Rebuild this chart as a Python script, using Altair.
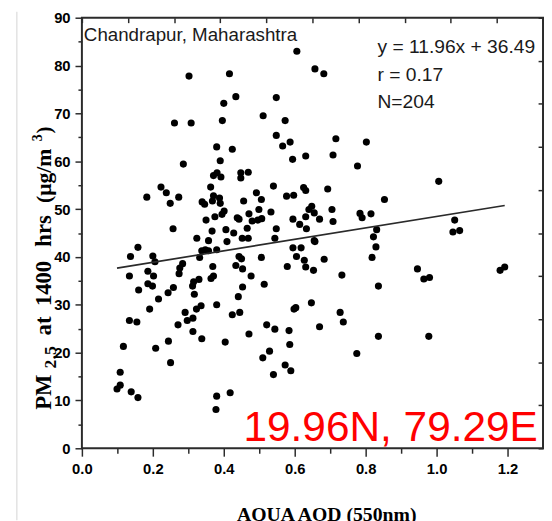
import altair as alt
import pandas as pd

# ---------------- data ----------------
aod = [
    0.606, 0.657, 0.682, 0.716, 0.802, 0.631, 0.708, 0.302, 0.416, 0.434, 0.400, 0.548, 0.511, 0.573, 0.261, 0.308,
    0.396, 0.548, 0.380, 0.424, 0.566, 0.587, 0.594,
    0.286, 0.390, 0.371, 0.381, 0.392, 0.448, 0.469, 0.448, 0.183, 0.223, 0.238, 0.249, 0.273, 0.363, 0.339, 0.346,
    0.371, 0.388, 0.368, 0.390, 0.456, 0.492, 0.506, 0.540, 0.577, 0.597, 0.625, 0.631, 0.648, 0.640,
    0.401, 0.395, 0.375, 0.350, 0.438, 0.443, 0.471, 0.499, 0.533, 0.480, 0.496, 0.507, 0.466, 0.548, 0.595, 0.614,
    0.631, 0.633, 0.655, 0.257,
    0.367, 0.406, 0.428, 0.324, 0.357, 0.409, 0.452, 0.469, 0.544, 0.655,
    0.158, 0.137, 0.200, 0.206, 0.338, 0.348, 0.357, 0.380, 0.332, 0.443,
    0.450, 0.506, 0.595, 0.618, 0.605, 0.627, 0.631, 0.653, 0.134, 0.186,
    0.202, 0.186, 0.199, 0.160, 0.284, 0.276, 0.274, 0.369, 0.434, 0.453,
    0.371, 0.364, 0.477, 0.579, 0.330, 0.315, 0.312, 0.514, 0.453, 0.258,
    0.243, 0.317, 0.216, 0.441,
    0.777, 1.006, 0.693, 0.853, 0.705, 0.784, 0.790, 0.815, 0.670, 0.708, 0.831, 1.051, 1.046, 1.065, 0.822, 0.657,
    0.829, 0.818, 0.683, 0.946, 0.964, 0.980, 1.179, 1.192, 0.733, 0.836,
    0.728, 0.737, 0.670, 0.836, 0.978, 0.775,
    0.191, 0.134, 0.155, 0.117, 0.108, 0.108, 0.099, 0.139, 0.158, 0.208, 0.244, 0.250, 0.271, 0.291, 0.297, 0.313,
    0.313, 0.323, 0.336, 0.338, 0.380, 0.404, 0.424, 0.445, 0.380, 0.378, 0.418, 0.471, 0.521, 0.544, 0.529, 0.510,
    0.540, 0.573, 0.589, 0.584, 0.586, 0.598, 0.603, 0.647,
]
pm25 = [
    83.0, 79.3, 78.3, 64.7, 64.0, 61.1, 61.3, 77.8, 78.3, 73.5, 72.1, 73.3, 69.5, 68.5, 68.0, 68.0,
    68.5, 65.4, 63.0, 62.5, 63.2, 64.0, 60.4,
    59.4, 60.1, 57.0, 57.6, 56.7, 57.6, 57.7, 56.5, 52.5, 54.6, 53.4, 51.2, 52.5, 54.6, 51.5, 51.0,
    52.8, 52.3, 51.7, 51.2, 51.7, 53.4, 52.0, 54.8, 52.7, 52.9, 54.5, 53.9, 50.6, 49.9,
    49.6, 48.9, 48.4, 47.7, 48.2, 47.9, 49.0, 49.9, 49.4, 47.5, 47.7, 48.0, 46.0, 45.9, 47.9, 46.8,
    48.4, 45.9, 49.2, 45.9,
    45.4, 45.7, 45.0, 43.9, 43.4, 43.2, 43.9, 43.9, 43.9, 43.4,
    42.0, 40.1, 40.2, 39.0, 41.3, 41.5, 41.3, 41.5, 39.9, 40.1,
    39.6, 39.9, 41.9, 41.9, 40.1, 39.3, 37.9, 37.2, 36.0, 37.0,
    36.0, 34.4, 33.9, 33.1, 38.6, 37.7, 36.5, 38.0, 38.2, 37.5,
    36.0, 35.5, 36.0, 38.0, 35.3, 34.8, 33.9, 34.3, 33.7, 33.6,
    32.5, 32.2, 31.2, 31.7,
    59.0, 55.8, 54.2, 52.0, 49.9, 49.1, 48.2, 49.0, 47.9, 47.4, 45.7, 47.7, 45.2, 45.5, 44.2, 43.2,
    42.1, 39.9, 39.5, 37.5, 35.4, 35.7, 37.2, 37.9, 36.2, 33.9,
    28.4, 26.4, 25.4, 23.4, 23.4, 19.8,
    29.1, 26.7, 26.4, 21.3, 15.9, 13.2, 12.4, 11.8, 10.6, 20.9, 22.4, 17.9, 25.8, 28.4, 26.7, 27.2,
    24.4, 29.1, 29.8, 22.9, 30.0, 22.2, 27.9, 28.4, 10.9, 8.1, 11.6, 23.9, 25.8, 24.9, 20.3, 18.9,
    15.4, 17.4, 16.2, 24.6, 21.7, 29.1, 29.4, 30.4,
]
slope = 11.96
intercept = 36.49

site_label = ["Chandrapur, Maharashtra"]
stats_labels = ["y = 11.96x + 36.49", "r = 0.17", "N=204"]
coord_label = ["19.96N, 79.29E"]
x_title = "AQUA AOD (550nm)"
y_title_pieces = ["PM", "2.5", "at", "1400", "hrs", "(\u03bcg/m", "3", ")"]

x_major = [0.0, 0.2, 0.4, 0.6, 0.8, 1.0, 1.2]
x_minor = [0.1, 0.3, 0.5, 0.7, 0.9, 1.1]
y_major = [0, 10, 20, 30, 40, 50, 60, 70, 80, 90]
y_minor = [5, 15, 25, 35, 45, 55, 65, 75, 85]
x_top = [0.0, 0.13, 0.26, 0.39, 0.52, 0.65, 0.78, 0.91, 1.04, 1.17, 1.3]
y_right = [0, 9, 18, 27, 36, 45, 54, 63, 72, 81, 90]

# ---------------- chart ----------------
W, H = 468, 437
df = pd.DataFrame({"aod": aod, "pm": pm25})
xmin, xmax = min(aod), max(aod)
line_df = pd.DataFrame({"aod": [xmin, xmax],
                        "pm": [intercept + slope * xmin, intercept + slope * xmax]})

xscale = alt.Scale(domain=[0, 1.3], nice=False, zero=False)
yscale = alt.Scale(domain=[0, 90], nice=False, zero=False)

points = alt.Chart(df).mark_circle(size=52, color="black", opacity=1).encode(
    x=alt.X("aod:Q", scale=xscale,
            axis=alt.Axis(orient="bottom", values=x_major, format=".1f", tickSize=8, labelPadding=6,
                          labelFlush=False, domain=False, grid=False,
                          title=x_title, titleFont="Liberation Serif", titleFontSize=20,
                          titleFontWeight="bold", titleColor="black",
                          titleX=248, titleY=73, titleAlign="center", titleBaseline="alphabetic")),
    y=alt.Y("pm:Q", scale=yscale,
            axis=alt.Axis(orient="left", values=y_major, format="d", tickSize=7, labelPadding=5,
                          labelFlush=False, domain=False, grid=False, title="")),
)

reg = alt.Chart(line_df).mark_line(color="#2a2a2a", strokeWidth=1.7).encode(
    x=alt.X("aod:Q", scale=xscale,
            axis=alt.Axis(orient="bottom", values=x_minor, labels=False, tickSize=5,
                          domain=False, grid=False, title="")),
    y=alt.Y("pm:Q", scale=yscale,
            axis=alt.Axis(orient="left", values=y_minor, labels=False, tickSize=4,
                          domain=False, grid=False, title="")),
)

inner = alt.Chart(line_df).mark_point(opacity=0).encode(
    x=alt.X("aod:Q", scale=xscale,
            axis=alt.Axis(orient="top", values=x_top, labels=False, tickSize=5, offset=-5,
                          domain=False, grid=False, title="")),
    y=alt.Y("pm:Q", scale=yscale,
            axis=alt.Axis(orient="right", values=y_right, labels=False, tickSize=5, offset=-5,
                          domain=False, grid=False, title="")),
)

layers = [points, reg, inner]


def label(text, x, y, size, font="Liberation Sans", color="#1a1a1a", weight="normal",
          angle=0, align="left"):
    return alt.Chart(pd.DataFrame({"t": [text]})).mark_text(
        align=align, baseline="alphabetic", font=font, fontSize=size, color=color,
        fontWeight=weight, angle=angle,
    ).encode(text="t:N", x=alt.value(x), y=alt.value(y))


layers.append(label(site_label[0], 2, 23.5, 19))
for i, s in enumerate(stats_labels):
    layers.append(label(s, 300, 36 + 28 * i, 19.5))
layers.append(label(coord_label[0], 164, 429.5, 43, color="#ff0000"))

# rotated y title, built from pieces (sub/superscripts)
tw = {"P": .611, "M": .944, "2": .5, ".": .25, "5": .5, "a": .5, "t": .333, "1": .5, "4": .5,
      "0": .5, "h": .556, "r": .444, "s": .389, "(": .333, "\u03bc": .556, "g": .5, "/": .278,
      "m": .833, "3": .5, ")": .333, " ": .25}
F = 23
styles = [(F, 0), (18, 5), (F, 0), (F, 0), (F, 0), (22, 0), (14, -10), (21, 0)]
gaps = [0, 0.05, 0.3, 0.3, 0.3, 0.3, 0, 0]
base_x = -31
start = 398.0
stretch = 1.14
pos = start
for piece, (fs, shift), g in zip(y_title_pieces, styles, gaps):
    pos -= g * F * stretch
    layers.append(label(piece, base_x + shift, pos, fs, font="Liberation Serif",
                        color="black", weight="bold", angle=270))
    pos -= sum(tw.get(c, .5) for c in piece) * fs * stretch

# slide border line at the left
layers.append(alt.Chart(pd.DataFrame({"v": [0]})).mark_rule(color="#d4d4d4", strokeWidth=1).encode(
    x=alt.value(-66), y=alt.value(-6), y2=alt.value(510)))

chart = alt.layer(*layers).resolve_axis(x="independent", y="independent").properties(
    width=W, height=H,
    padding={"left": 75, "top": 6, "right": 1, "bottom": 75},
    autosize=alt.AutoSizeParams(type="none"),
).configure_view(stroke="#2b2b2b", strokeWidth=2).configure_axis(
    tickColor="#2b2b2b", tickWidth=1.5, labelFont="Liberation Sans", labelFontWeight="bold",
    labelFontSize=15, labelColor="black",
)

chart.save("out.html", embed_options={"renderer": "svg", "actions": False})
